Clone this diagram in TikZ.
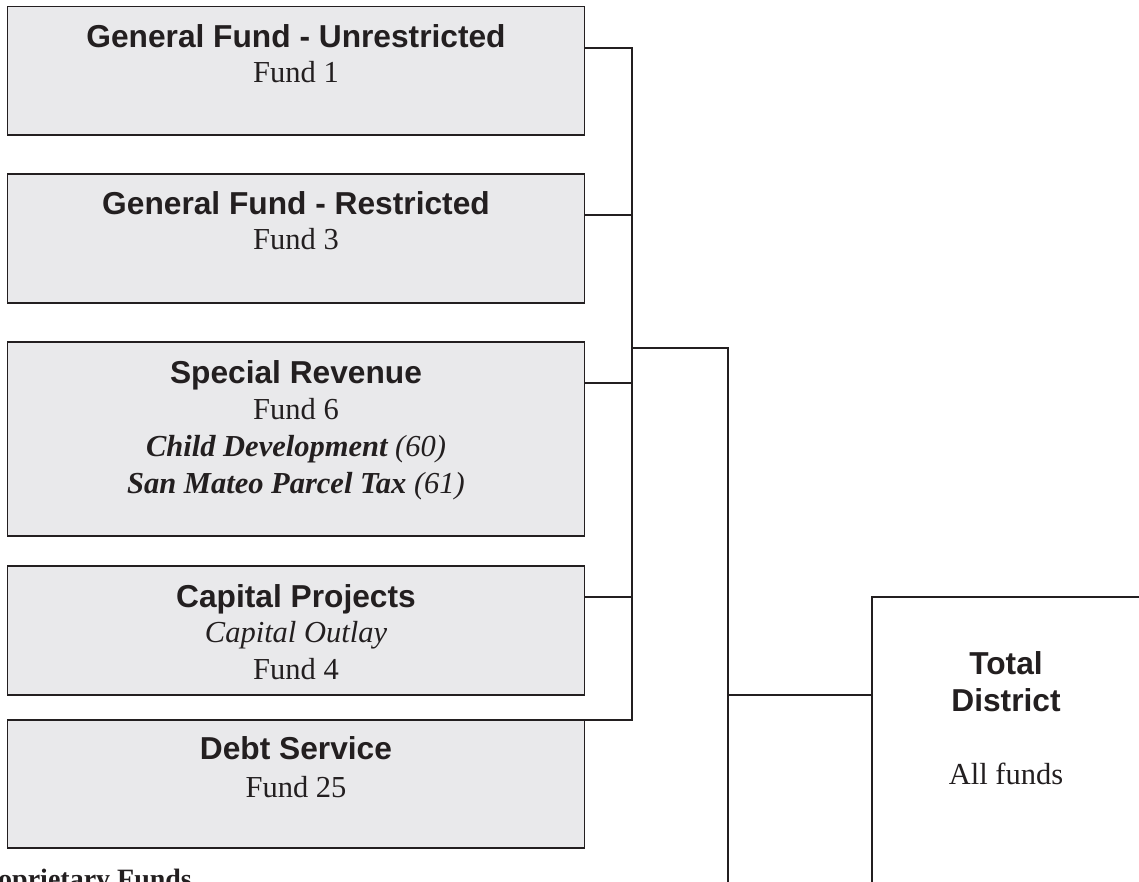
\documentclass[tikz,border=0pt]{standalone}
\usepackage{fontspec}
\setmainfont{Liberation Serif}
\setsansfont{Liberation Sans}
\definecolor{boxfill}{RGB}{233,233,235}
\definecolor{ink}{RGB}{35,31,32}
\tikzset{
  fundbox/.style={draw=ink, fill=boxfill, line width=1.6pt, minimum width=577pt,
    anchor=north west, inner sep=0pt, outer sep=0pt},
  totalbox/.style={draw=ink, fill=white, line width=1.6pt, anchor=north west,
    minimum width=268pt, minimum height=400pt, inner sep=0pt, outer sep=0pt},
  wire/.style={draw=ink, line width=1.6pt},
  ttl/.style={font=\fontsize{31.7}{36}\sffamily\bfseries, text=ink, anchor=base, inner sep=0pt},
  sub/.style={font=\fontsize{30.5}{36}\selectfont, text=ink, anchor=base, inner sep=0pt},
}
\begin{document}
\begin{tikzpicture}[x=1pt, y=-1pt]
\useasboundingbox (0,0) rectangle (1139,882);
\clip (0,0) rectangle (1139,882);

% boxes
\node[fundbox, minimum height=128.5pt] (b1) at (7.5,6.5) {};
\node[fundbox, minimum height=129pt] (b2) at (7.5,174) {};
\node[fundbox, minimum height=194pt] (b3) at (7.5,342) {};
\node[fundbox, minimum height=129pt] (b4) at (7.5,566) {};
\node[fundbox, minimum height=128pt] (b5) at (7.5,720) {};
\node[totalbox] (td) at (872,597) {};

% texts
\node[ttl] (t1a) at (296,48) {General Fund - Unrestricted};
\node[sub] (t1b) at (296,83) {Fund 1};
\node[ttl] (t2a) at (296,215) {General Fund - Restricted};
\node[sub] (t2b) at (296,250) {Fund 3};
\node[ttl] (t3a) at (296,383) {Special Revenue};
\node[sub] (t3b) at (296,419) {Fund 6};
\node[sub] (t3c) at (296,456) {{\bfseries\itshape Child Development} {\itshape (60)}};
\node[sub] (t3d) at (296,493) {{\bfseries\itshape San Mateo Parcel Tax} {\itshape (61)}};
\node[ttl] (t4a) at (296,607) {Capital Projects};
\node[sub] (t4b) at (296,642) {\itshape Capital Outlay};
\node[sub] (t4c) at (296,679) {Fund 4};
\node[ttl] (t5a) at (296,759) {Debt Service};
\node[sub] (t5b) at (296,797) {Fund 25};
\node[ttl] (tda) at (1006,674) {Total};
\node[ttl] (tdb) at (1006,711) {District};
\node[sub] (tdc) at (1006,784) {All funds};
\node[font=\fontsize{28}{32}\selectfont\bfseries, text=ink, anchor=base west, inner sep=0pt]
  (prop) at (-31,888.5) {Proprietary Funds};

% connectors
\coordinate (bus1) at (632,48);
\coordinate (bus2) at (632,215);
\coordinate (bus3) at (632,383);
\coordinate (bus4) at (632,597);
\coordinate (bus5) at (632,720);
\coordinate (jn) at (632,348);
\coordinate (col) at (728,348);
\coordinate (colb) at (728,895);
\coordinate (tj) at (728,695);

\draw[wire] (b1.east |- bus1) -- (bus1) -- (bus5) -- (b5.north east);
\draw[wire] (b2.east |- bus2) -- (bus2);
\draw[wire] (b3.east |- bus3) -- (bus3);
\draw[wire] (b4.east |- bus4) -- (bus4);
\draw[wire] (jn) -- (col) -- (colb);
\draw[wire] (tj) -- (td.west |- tj);
\end{tikzpicture}
\end{document}
